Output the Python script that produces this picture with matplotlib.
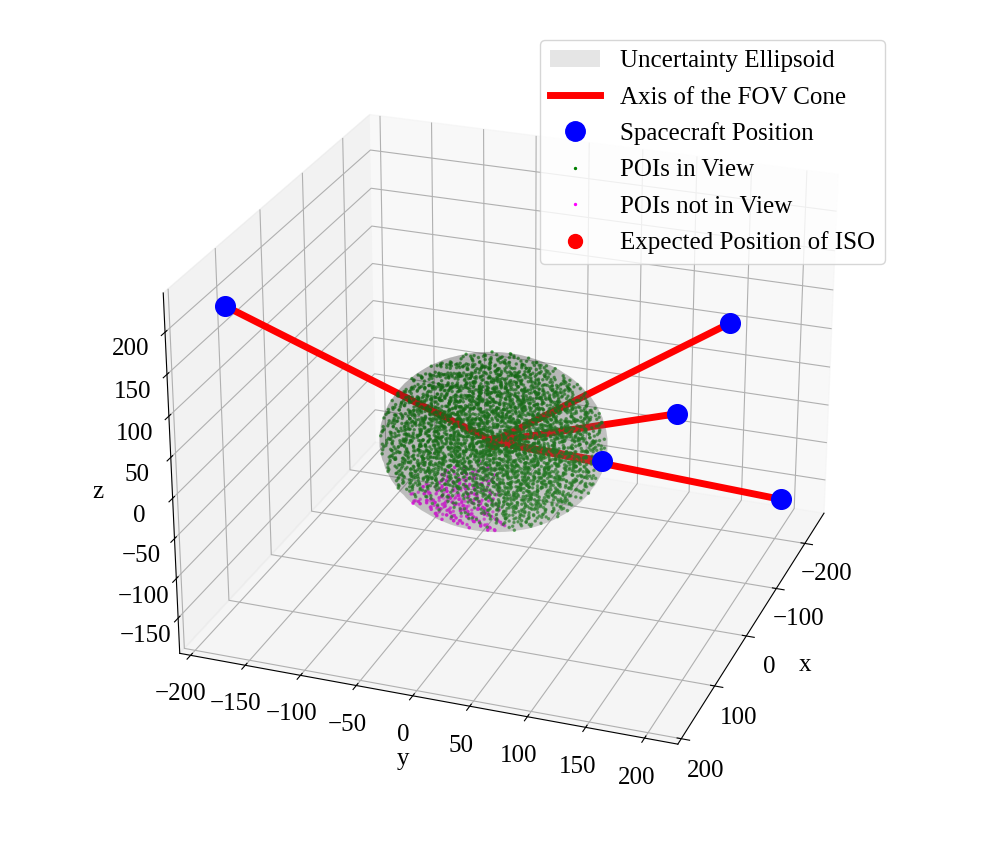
import numpy as np
import matplotlib.pyplot as plt
from matplotlib.patches import Patch
from matplotlib.lines import Line2D

plt.rcParams['font.family'] = ['Liberation Serif', 'DejaVu Serif']
plt.rcParams['font.size'] = 18

# expected ISO position and its uncertainty ellipsoid (semi-axes)
iso_pos = [0, 0, 0]
ellipsoid_radii = [98, 98, 98]

# spacecraft positions
sc_x = [190, -150, -200, -40, -250]
sc_y = [-165, 166, 106, 85, 192]
sc_z = [230, 105, -50, -28, -173]

x_lim = (-270, 210)
y_lim = (-210, 228)
z_lim = (-195, 246)
x_ticks = [-200, -100, 0, 100, 200]
y_ticks = [-200, -150, -100, -50, 0, 50, 100, 150, 200]
z_ticks = [-150, -100, -50, 0, 50, 100, 150, 200]

# POIs sampled inside the ellipsoid
n_pois = 4000
blind_dir = [0.4, -0.25, -0.8]   # side of the ellipsoid no camera sees
blind_cos = 0.87

# quasi-random (R-sequence) points in the unit ball, deterministic
g = 1.2207440846057596
alpha = np.array([1 / g, 1 / g**2, 1 / g**3])
idx = np.arange(1, n_pois + 1)[:, None]
u = (0.5 + idx * alpha) % 1.0
r = u[:, 0] ** (1 / 3)
ct = 2 * u[:, 1] - 1
st = np.sqrt(1 - ct**2)
ph = 2 * np.pi * u[:, 2]
unit = np.column_stack([r * st * np.cos(ph), r * st * np.sin(ph), r * ct])
pois = unit * np.array(ellipsoid_radii) + np.array(iso_pos)

d = np.array(blind_dir) / np.linalg.norm(blind_dir)
cosang = unit @ d / np.maximum(np.linalg.norm(unit, axis=1), 1e-9)
hidden = (cosang > blind_cos) & (r > 0.3)

fig = plt.figure(figsize=(10, 8.46), dpi=100)
ax = fig.add_axes([0.118, 0.12, 0.775, 0.77], projection='3d')

# ellipsoid surface
uu, vv = np.meshgrid(np.linspace(0, 2 * np.pi, 60), np.linspace(0, np.pi, 30))
ex = iso_pos[0] + ellipsoid_radii[0] * np.cos(uu) * np.sin(vv)
ey = iso_pos[1] + ellipsoid_radii[1] * np.sin(uu) * np.sin(vv)
ez = iso_pos[2] + ellipsoid_radii[2] * np.cos(vv)
ax.plot_surface(ex, ey, ez, color='gray', alpha=0.2, linewidth=0)

for x, y, z in zip(sc_x, sc_y, sc_z):
    ax.plot([iso_pos[0], x], [iso_pos[1], y], [iso_pos[2], z], color='red', linewidth=5)

ax.scatter(sc_x, sc_y, sc_z, color='blue', s=200, depthshade=False)
ax.scatter(pois[~hidden, 0], pois[~hidden, 1], pois[~hidden, 2], color='green', s=2.5, alpha=0.55)
ax.scatter(pois[hidden, 0], pois[hidden, 1], pois[hidden, 2], color='magenta', s=2.5)
ax.scatter(*iso_pos, color='red', s=100)

ax.set_xlim(*x_lim)
ax.set_ylim(*y_lim)
ax.set_zlim(*z_lim)
ax.set_xticks(x_ticks)
ax.set_yticks(y_ticks)
ax.set_zticks(z_ticks)
ax.set_xlabel('x')
ax.set_ylabel('y')
ax.set_zlabel('z')
ax.view_init(elev=25, azim=20)
ax.set_box_aspect(None, zoom=1.225)

handles = [
    Patch(facecolor='gray', alpha=0.2, label='Uncertainty Ellipsoid'),
    Line2D([], [], color='red', linewidth=5, label='Axis of the FOV Cone'),
    Line2D([], [], marker='o', linestyle='', color='blue', markersize=14, label='Spacecraft Position'),
    Line2D([], [], marker='o', linestyle='', color='green', markersize=1.4, label='POIs in View'),
    Line2D([], [], marker='o', linestyle='', color='magenta', markersize=1.4, label='POIs not in View'),
    Line2D([], [], marker='o', linestyle='', color='red', markersize=10, label='Expected Position of ISO'),
]
ax.legend(handles=handles, loc='upper right', bbox_to_anchor=(0.885, 0.953),
          bbox_transform=fig.transFigure, borderaxespad=0, labelspacing=0.55)

plt.savefig('out.png', dpi=100)
